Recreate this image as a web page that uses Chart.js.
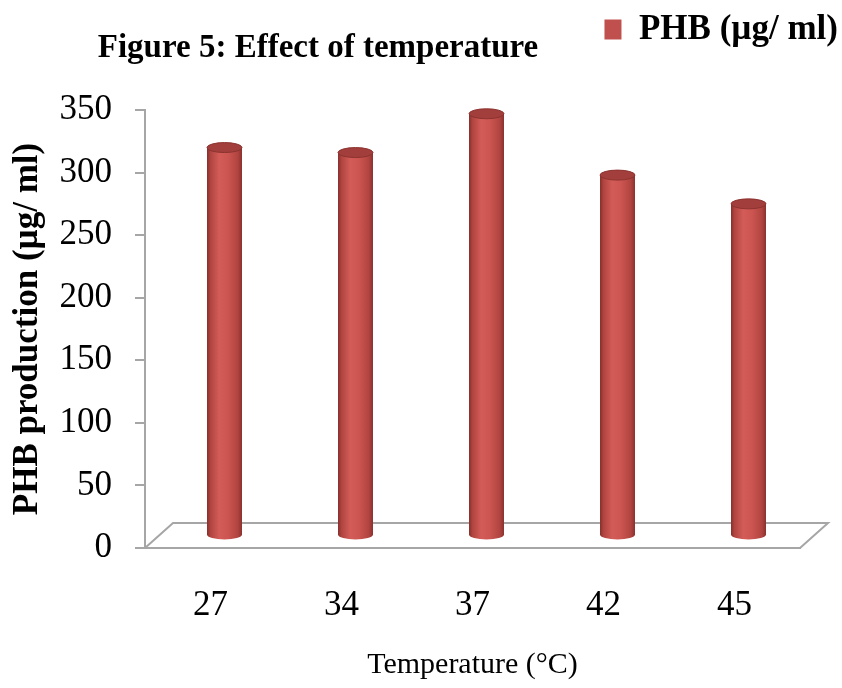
<!DOCTYPE html>
<html>
<head>
    <title>Figure 5: Effect of temperature</title>
    <script src="https://cdn.jsdelivr.net/npm/chart.js"></script>
    <style>
        body { margin: 0; background: #fff; }
        #wrap { width: 842px; height: 688px; }
    </style>
</head>
<body>
    <div id="wrap"><canvas id="phbChart" width="842" height="688"></canvas></div>
    <script>
        // data
        const chartTitle = 'Figure 5: Effect of temperature';
        const temperatures = ['27', '34', '37', '42', '45'];
        const phbValues = [310, 306, 337, 288, 265];
        const seriesLabel = 'PHB (µg/ ml)';
        const yMin = 0;
        const yMax = 350;
        const yStep = 50;

        const serif = '"Liberation Serif", "Times New Roman", serif';
        const DX = 28, DY = -25; // depth of the 3d floor

        // floor, cylinders and title
        const fake3d = {
            id: 'fake3d',
            afterLayout(chart) {
                // legend sits in the top right corner, above the title line
                let lg = chart.legend;
                let h = lg.height;
                lg.top = 0;
                lg.bottom = h;
                lg.left += 8;
                lg.right += 8;
            },
            beforeDatasetsDraw(chart) {
                let ctx = chart.ctx;
                let a = chart.chartArea;
                ctx.save();
                ctx.strokeStyle = '#a6a6a6';
                ctx.lineWidth = 2;
                ctx.beginPath();
                ctx.moveTo(a.left, a.bottom);
                ctx.lineTo(a.left + DX, a.bottom + DY);
                ctx.lineTo(a.right + DX, a.bottom + DY);
                ctx.lineTo(a.right, a.bottom);
                ctx.stroke();

                let meta = chart.getDatasetMeta(0);
                meta.data.forEach(function (bar) {
                    let x = bar.x + DX / 2;
                    let top = bar.y + DY / 2;
                    let base = bar.base + DY / 2;
                    let rx = bar.width / 2;
                    let ry = 5;

                    let grad = ctx.createLinearGradient(x - rx, 0, x + rx, 0);
                    grad.addColorStop(0, '#86302d');
                    grad.addColorStop(0.1, '#b0443f');
                    grad.addColorStop(0.35, '#d35c58');
                    grad.addColorStop(0.6, '#cc5551');
                    grad.addColorStop(0.88, '#b1443f');
                    grad.addColorStop(1, '#8a322f');

                    ctx.beginPath();
                    ctx.moveTo(x - rx, top);
                    ctx.lineTo(x - rx, base);
                    ctx.ellipse(x, base, rx, ry, 0, Math.PI, 0, true);
                    ctx.lineTo(x + rx, top);
                    ctx.closePath();
                    ctx.fillStyle = grad;
                    ctx.fill();

                    ctx.beginPath();
                    ctx.ellipse(x, top, rx, ry, 0, 0, Math.PI * 2);
                    ctx.fillStyle = '#a23e3b';
                    ctx.fill();
                    ctx.strokeStyle = '#8c3330';
                    ctx.lineWidth = 1;
                    ctx.stroke();
                });
                ctx.restore();
                return false;
            },
            afterDraw(chart) {
                let ctx = chart.ctx;
                ctx.save();
                ctx.font = 'bold 33px ' + serif;
                ctx.fillStyle = '#000';
                ctx.textAlign = 'center';
                ctx.textBaseline = 'middle';
                ctx.fillText(chartTitle, 318, 48);
                ctx.restore();
            }
        };

        new Chart(document.getElementById('phbChart'), {
            type: 'bar',
            data: {
                labels: temperatures,
                datasets: [{
                    label: seriesLabel,
                    data: phbValues,
                    backgroundColor: '#c0504d',
                    barThickness: 35
                }]
            },
            options: {
                responsive: false,
                animation: false,
                layout: { padding: 0 },
                plugins: {
                    tooltip: { enabled: false },
                    legend: {
                        position: 'top',
                        align: 'end',
                        labels: {
                            color: '#000',
                            font: { family: serif, size: 35, weight: 'bold' },
                            boxWidth: 17,
                            boxHeight: 20,
                            padding: 12
                        }
                    }
                },
                scales: {
                    x: {
                        grid: { display: false, drawTicks: false },
                        border: { display: true, color: '#a6a6a6', width: 2 },
                        ticks: {
                            color: '#000',
                            font: { family: serif, size: 35 },
                            padding: 37
                        },
                        title: {
                            display: true,
                            text: 'Temperature (°C)',
                            color: '#000',
                            font: { family: serif, size: 30 },
                            padding: { top: 0, bottom: 5 }
                        },
                        afterFit(scale) {
                            scale.height = 140;
                            scale.paddingRight = 42;
                            scale.paddingLeft = 0;
                        }
                    },
                    y: {
                        min: yMin,
                        max: yMax,
                        grid: {
                            drawOnChartArea: false,
                            drawTicks: true,
                            tickLength: 10,
                            color: '#a6a6a6',
                            lineWidth: 2
                        },
                        border: { display: true, color: '#a6a6a6', width: 2 },
                        ticks: {
                            stepSize: yStep,
                            color: '#000',
                            font: { family: serif, size: 35 },
                            padding: 23
                        },
                        title: {
                            display: true,
                            text: 'PHB production (µg/ ml)',
                            color: '#000',
                            font: { family: serif, size: 35, weight: 'bold' },
                            padding: { top: 7, bottom: 0 }
                        },
                        afterFit(scale) {
                            scale.width = 145;
                            scale.paddingTop = 110;
                            scale.paddingBottom = 0;
                        }
                    }
                }
            },
            plugins: [fake3d]
        });
    </script>
</body>
</html>
